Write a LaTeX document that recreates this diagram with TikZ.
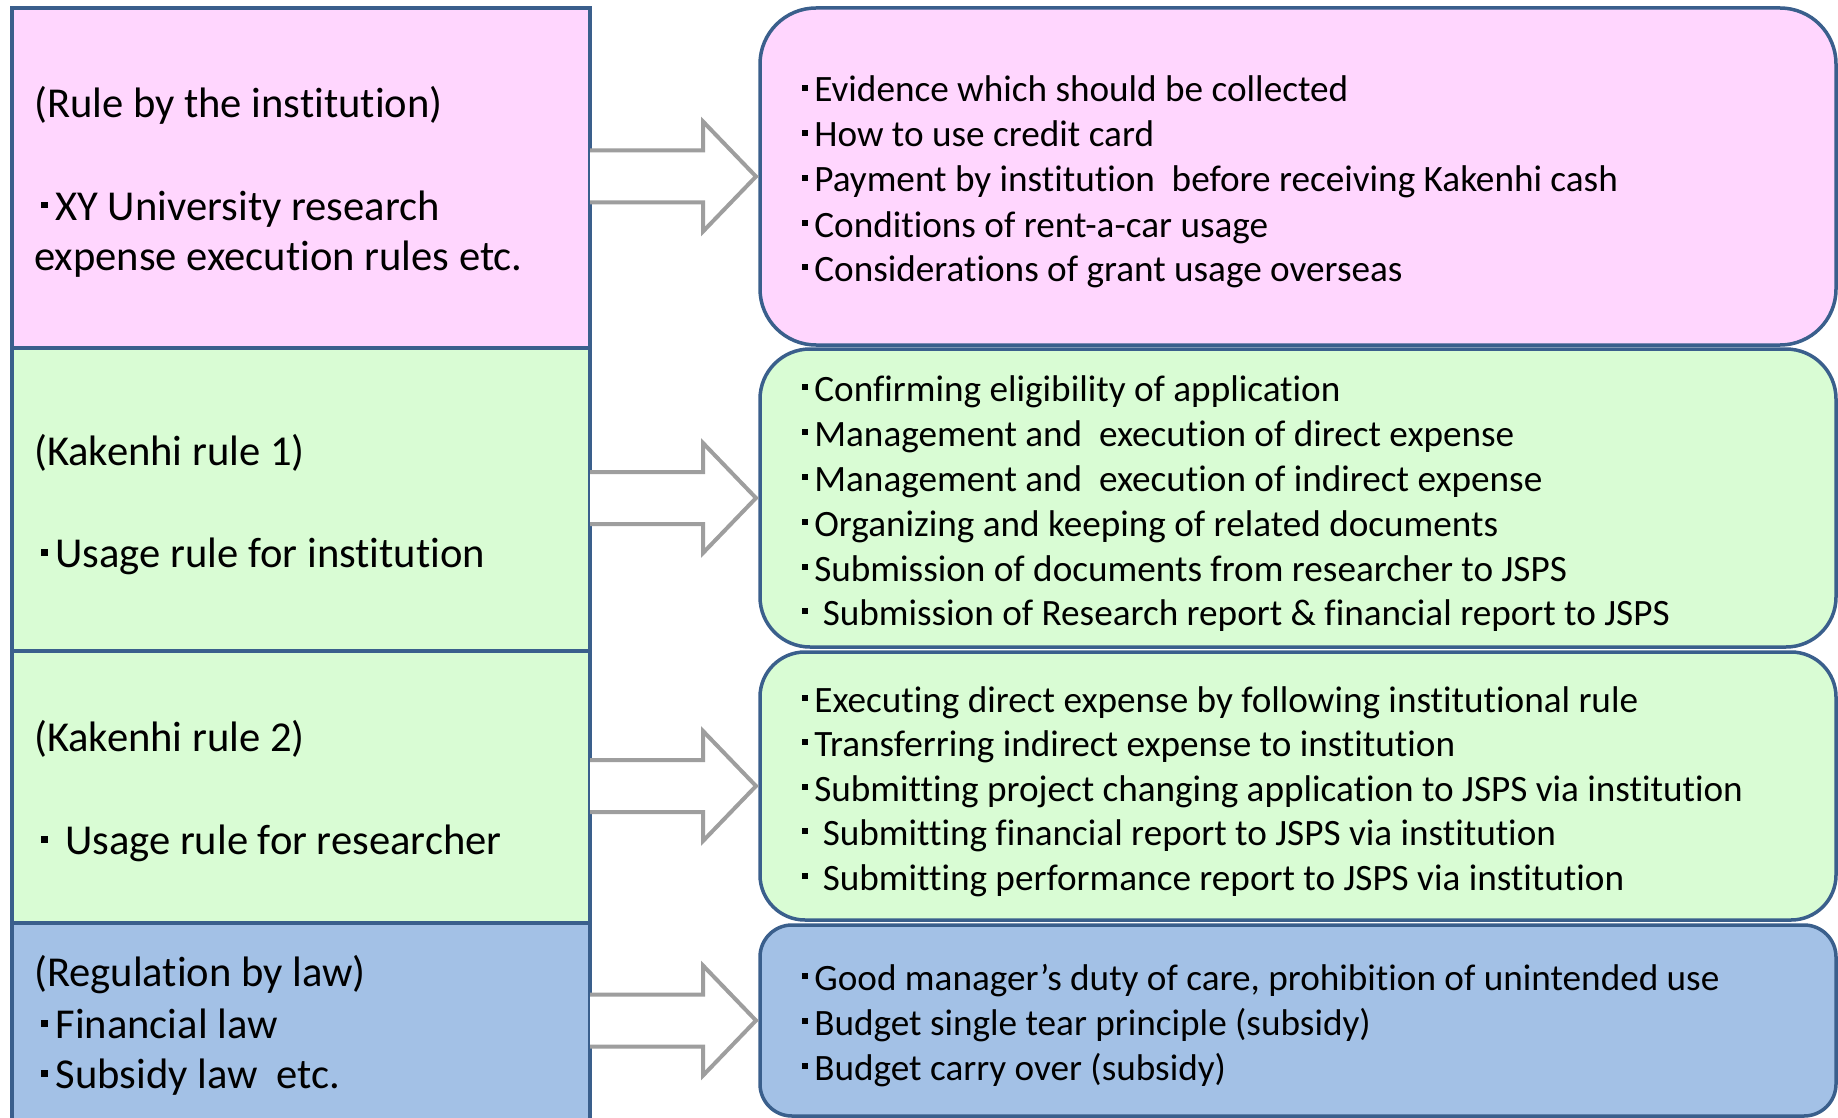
\documentclass[tikz,border=0pt]{standalone}
\usepackage{fontspec}
\setmainfont[Ligatures=CommonOff]{Carlito}
\usetikzlibrary{calc}
\definecolor{pinkc}{HTML}{FFD6FE}
\definecolor{greenc}{HTML}{D9FCD4}
\definecolor{bluec}{HTML}{A3C1E6}
\definecolor{edgec}{HTML}{3A5F8C}
\definecolor{arrc}{HTML}{9E9E9E}
\newcommand\lbul{\makebox[0.5em][c]{\raisebox{0.27em}{\rule{0.16em}{0.16em}}}}
\newcommand\rbul{\makebox[0.38em][l]{\hspace{0.04em}\raisebox{0.3em}{\rule{0.16em}{0.16em}}}}
\newcommand\barrow[2]{%
 \draw[arrowst] ($(#1.east |- #2.west)+(0,-26)$) -- ($(#2.west)+(-57,-26)$) -- ($(#2.west)+(-57,-55)$) -- ($(#2.west)+(-4,0)$) -- ($(#2.west)+(-57,55)$) -- ($(#2.west)+(-57,26)$) -- ($(#1.east |- #2.west)+(0,26)$);}
\begin{document}
\begin{tikzpicture}[x=1pt,y=-1pt,
  lbox/.style={draw=edgec, line width=3.5pt, rectangle, inner sep=0, outer sep=0, minimum width=578pt},
  rbox/.style={draw=edgec, line width=3.5pt, rectangle, inner sep=0, outer sep=0, minimum width=1076pt},
  arrowst/.style={draw=arrc, line width=4pt, fill=white, line join=miter},
  ltxt/.style={anchor=base west, inner sep=0, font=\fontsize{42.6}{50}\selectfont},
  rtxt/.style={anchor=base west, inner sep=0, font=\fontsize{37.2}{45}\selectfont}]
\useasboundingbox (0,0) rectangle (1838,1118);
\fill[white] (0,0) rectangle (1838,1118);
% left column
\node[lbox, fill=pinkc, minimum height=340pt] (L1) at (301,178) {};
\node[lbox, fill=greenc, minimum height=303pt] (L2) at (301,499.5) {};
\node[lbox, fill=greenc, minimum height=272pt] (L3) at (301,787) {};
\node[lbox, fill=bluec, minimum height=207pt] (L4) at (301,1026.5) {};
% right column
\node[rbox, fill=pinkc, minimum height=337pt, rounded corners=56pt] (R1) at (1298,176.5) {};
\node[rbox, fill=greenc, minimum height=298pt, rounded corners=50pt] (R2) at (1298,498) {};
\node[rbox, fill=greenc, minimum height=268pt, rounded corners=45pt] (R3) at (1298,786) {};
\node[rbox, fill=bluec, minimum height=191pt, rounded corners=32pt] (R4) at (1298,1020.5) {};
% arrows
\barrow{L1}{R1}
\barrow{L2}{R2}
\barrow{L3}{R3}
\barrow{L4}{R4}
% left texts
\node[ltxt] (l1a) at (34,118) {(Rule by the institution)};
\node[ltxt] (l1b) at (34,220) {\lbul XY University research};
\node[ltxt] (l1c) at (34,270) {expense execution rules etc.};
\node[ltxt] (l2a) at (34,465) {(Kakenhi rule 1)};
\node[ltxt] (l2b) at (34,567) {\lbul Usage rule for institution};
\node[ltxt] (l3a) at (34,751) {(Kakenhi rule 2)};
\node[ltxt] (l3b) at (34,854) {\lbul\ Usage rule for researcher};
\node[ltxt] (l4a) at (34,986) {(Regulation by law)};
\node[ltxt] (l4b) at (34,1038) {\lbul Financial law};
\node[ltxt] (l4c) at (34,1088) {\lbul Subsidy law~ etc.};
% right texts
\node[rtxt] (r1a) at (800,102) {\rbul Evidence which should be collected};
\node[rtxt] (r1b) at (800,147) {\rbul How to use credit card};
\node[rtxt] (r1c) at (800,192) {\rbul Payment by institution~ before receiving Kakenhi cash};
\node[rtxt] (r1d) at (800,237) {\rbul Conditions of rent-a-car usage};
\node[rtxt] (r1e) at (800,281) {\rbul Considerations of grant usage overseas};
\node[rtxt] (r2a) at (800,401) {\rbul Confirming eligibility of application};
\node[rtxt] (r2b) at (800,446) {\rbul Management and~ execution of direct expense};
\node[rtxt] (r2c) at (800,491) {\rbul Management and~ execution of indirect expense};
\node[rtxt] (r2d) at (800,536) {\rbul Organizing and keeping of related documents};
\node[rtxt] (r2e) at (800,581) {\rbul Submission of documents from researcher to JSPS};
\node[rtxt] (r2f) at (800,625) {\rbul\ Submission of Research report \& financial report to JSPS};
\node[rtxt] (r3a) at (800,712) {\rbul Executing direct expense by following institutional rule};
\node[rtxt] (r3b) at (800,756) {\rbul Transferring indirect expense to institution};
\node[rtxt] (r3c) at (800,801) {\rbul Submitting project changing application to JSPS via institution};
\node[rtxt] (r3d) at (800,845) {\rbul\ Submitting financial report to JSPS via institution};
\node[rtxt] (r3e) at (800,890) {\rbul\ Submitting performance report to JSPS via institution};
\node[rtxt] (r4a) at (800,990) {\rbul Good manager’s duty of care, prohibition of unintended use};
\node[rtxt] (r4b) at (800,1035) {\rbul Budget single tear principle (subsidy)};
\node[rtxt] (r4c) at (800,1080) {\rbul Budget carry over (subsidy)};
\end{tikzpicture}
\end{document}
